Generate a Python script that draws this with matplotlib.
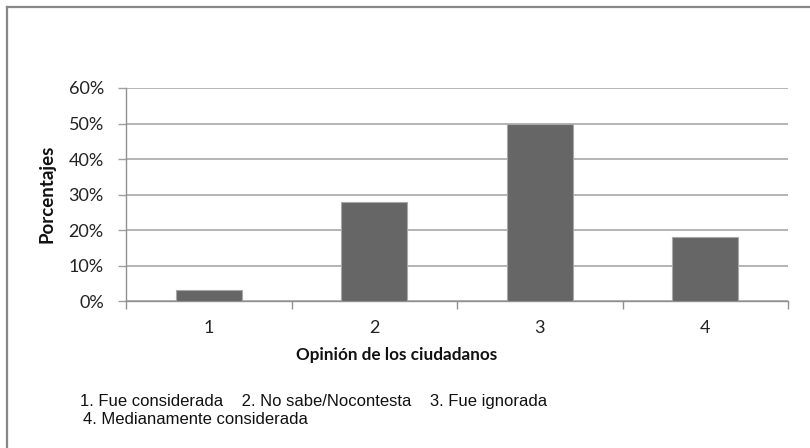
import matplotlib
matplotlib.use("Agg")
import matplotlib.pyplot as plt
from matplotlib.lines import Line2D
from matplotlib.ticker import FixedLocator, PercentFormatter

categories = ["1", "2", "3", "4"]
values = [3, 28, 50, 18]
yticks = [0, 10, 20, 30, 40, 50, 60]
xlabel = "Opinión de los ciudadanos"
ylabel = "Porcentajes"
legend_line1 = "1. Fue considerada    2. No sabe/Nocontesta    3. Fue ignorada"
legend_line2 = "4. Medianamente considerada"

plt.rcParams["font.family"] = ["Lato", "DejaVu Sans"]

W, H = 810, 448
fig = plt.figure(figsize=(W / 100, H / 100), dpi=100)
fig.patch.set_facecolor("white")

ax = fig.add_axes([126 / W, 1 - 301 / H, (788 - 126) / W, (301 - 88) / H])
x = list(range(1, len(categories) + 1))
ax.bar(x, values, width=0.4, color="#666666", edgecolor="#a8a8a8", linewidth=0.8, zorder=3)

ax.set_xlim(0.5, len(categories) + 0.5)
ax.set_ylim(0, 60)
ax.set_yticks(yticks)
ax.yaxis.set_major_formatter(PercentFormatter(decimals=0))
ax.grid(axis="y", color="#a0a0a0", linewidth=1.1, zorder=0)

ax.xaxis.set_major_locator(FixedLocator([i + 0.5 for i in range(len(categories) + 1)]))
ax.xaxis.set_minor_locator(FixedLocator(x))
ax.set_xticklabels([""] * (len(categories) + 1))
ax.set_xticklabels(categories, minor=True)
ax.tick_params(axis="x", which="major", length=6, width=1, color="#909090")
ax.tick_params(axis="x", which="minor", length=0, pad=14, labelsize=13, labelcolor="#222222")
ax.tick_params(axis="y", length=6, width=1, color="#a0a0a0", pad=10, labelsize=13, labelcolor="#222222")

for s in ["top", "right"]:
    ax.spines[s].set_visible(False)
for s in ["left", "bottom"]:
    ax.spines[s].set_color("#909090")
    ax.spines[s].set_linewidth(1)

fig.text(47 / W, 1 - 194 / H, ylabel, rotation=90, ha="center", va="center",
         fontsize=13.5, fontweight="bold", color="#111111")
fig.text(397 / W, 1 - 355 / H, xlabel, ha="center", va="center",
         fontsize=12.3, fontweight="bold", color="#111111")

fig.text(80 / W, 1 - 401 / H, legend_line1, ha="left", va="center",
         fontsize=12, family="Liberation Sans", color="#111111")
fig.text(83 / W, 1 - 419 / H, legend_line2, ha="left", va="center",
         fontsize=12, family="Liberation Sans", color="#111111")

# outer chart border (left and top visible)
fig.add_artist(Line2D([7 / W, 7 / W], [0, 1 - 7 / H], transform=fig.transFigure,
                      color="#888888", linewidth=1.6))
fig.add_artist(Line2D([7 / W, 1], [1 - 7 / H, 1 - 7 / H], transform=fig.transFigure,
                      color="#888888", linewidth=1.6))

fig.savefig("out.png", dpi=100, facecolor="white")
